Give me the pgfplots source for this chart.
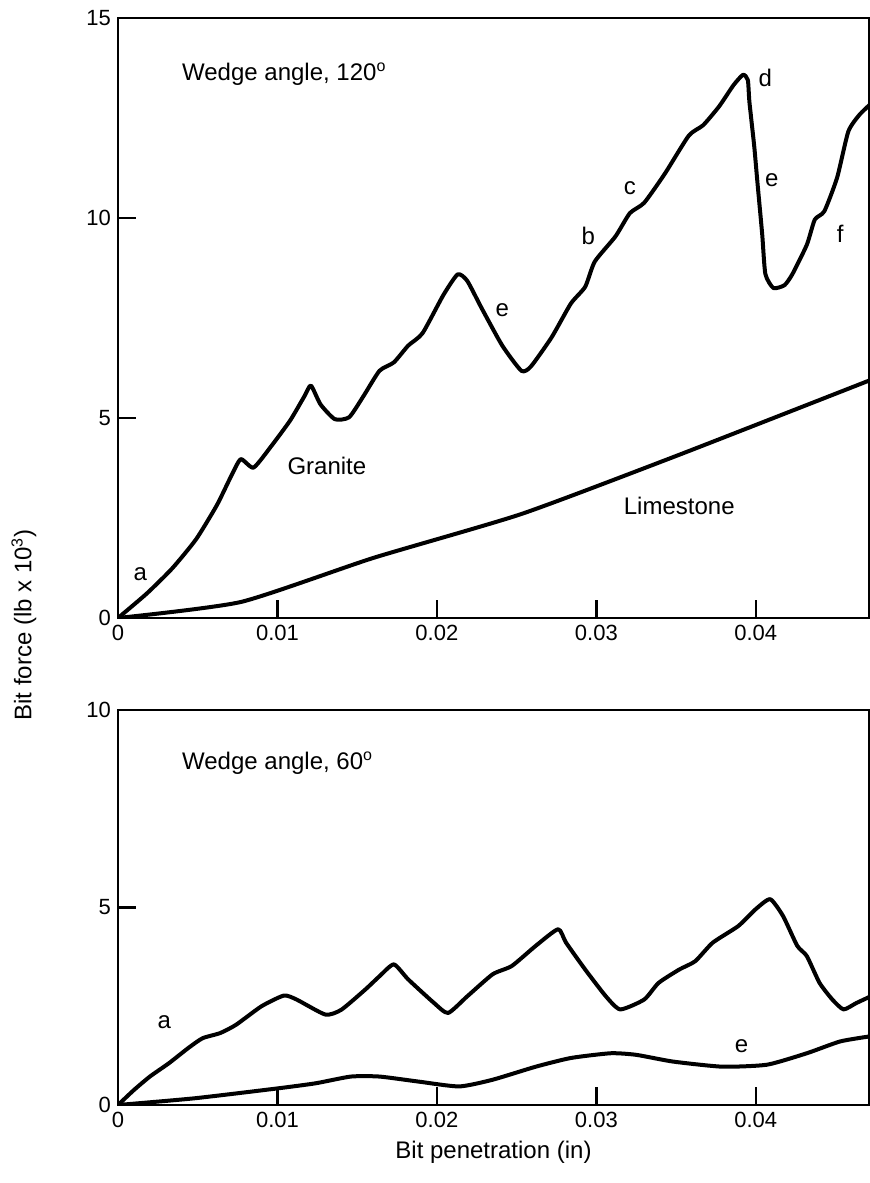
\documentclass[border=0pt]{standalone}
\usepackage{fontspec}
\setmainfont{Liberation Sans}
\usepackage{pgfplots}
\pgfplotsset{compat=1.18}

% upper panel, wedge angle 120
\pgfplotstableread{
x y
0.0000 0.00
0.0018 0.61
0.0034 1.24
0.0049 1.97
0.0062 2.82
0.0071 3.55
0.0077 3.97
0.0085 3.76
0.0096 4.29
0.0108 4.94
0.0117 5.55
0.0121 5.81
0.0127 5.34
0.0136 4.97
0.0145 5.02
0.0154 5.55
0.0164 6.18
0.0173 6.39
0.0182 6.81
0.0191 7.12
0.0204 8.07
0.0213 8.59
0.0219 8.43
0.0228 7.75
0.0241 6.81
0.0253 6.18
0.0259 6.29
0.0272 7.02
0.0284 7.86
0.0293 8.28
0.0299 8.91
0.0312 9.54
0.0321 10.12
0.0330 10.38
0.0343 11.11
0.0358 12.06
0.0367 12.32
0.0377 12.79
0.0386 13.32
0.0392 13.58
0.0395 13.45
0.0396 12.90
0.0399 11.80
0.0401 10.90
0.0404 9.60
0.0406 8.60
0.0411 8.25
0.0418 8.32
0.0423 8.60
0.0432 9.33
0.0437 9.96
0.0443 10.17
0.0451 11.01
0.0458 12.16
0.0465 12.58
0.0472 12.85
}\granitetop

\pgfplotstableread{
x y
0.0000 0.00
0.0077 0.40
0.0160 1.50
0.0253 2.60
0.0350 4.05
0.0472 5.95
}\limetop

% lower panel, wedge angle 60
\pgfplotstableread{
x y
0.0000 0.00
0.0010 0.38
0.0020 0.72
0.0032 1.06
0.0044 1.44
0.0053 1.69
0.0064 1.82
0.0074 2.03
0.0090 2.50
0.0104 2.77
0.0112 2.67
0.0130 2.29
0.0140 2.41
0.0155 2.92
0.0164 3.26
0.0173 3.56
0.0182 3.18
0.0198 2.59
0.0207 2.33
0.0219 2.75
0.0235 3.31
0.0247 3.52
0.0262 4.03
0.0276 4.45
0.0281 4.11
0.0293 3.43
0.0306 2.75
0.0315 2.42
0.0330 2.67
0.0339 3.09
0.0352 3.43
0.0362 3.64
0.0373 4.11
0.0389 4.53
0.0400 4.96
0.0409 5.21
0.0417 4.79
0.0426 4.03
0.0432 3.77
0.0440 3.09
0.0448 2.67
0.0455 2.42
0.0463 2.58
0.0472 2.75
}\granitebot

\pgfplotstableread{
x y
0.0000 0.00
0.0048 0.17
0.0100 0.42
0.0124 0.55
0.0146 0.72
0.0164 0.72
0.0189 0.59
0.0214 0.47
0.0235 0.64
0.0262 0.97
0.0284 1.19
0.0309 1.31
0.0325 1.27
0.0348 1.10
0.0379 0.97
0.0407 1.02
0.0432 1.31
0.0453 1.61
0.0472 1.74
}\limebot

\pgfplotsset{
  panel/.style={
    scale only axis,
    width=375.5pt,
    xmin=0, xmax=0.0471,
    axis line style={line width=1.2pt},
    tick align=inside,
    xtick pos=bottom, ytick pos=left,
    major tick length=9pt,
    every tick/.style={black, line width=1.2pt},
    xtick={0,0.01,0.02,0.03,0.04},
    xticklabels={0,0.01,0.02,0.03,0.04},
    scaled x ticks=false,
    /pgf/number format/assume math mode=true,
    tick label style={font=\fontsize{11}{13}\selectfont},
    label style={font=\fontsize{12}{14}\selectfont},
    clip=true,
  },
  curve/.style={black, line width=2pt, line join=round, line cap=round,
    no markers, smooth, tension=0.35},
}

\begin{document}
\begin{tikzpicture}
\tikzset{lab/.style={font=\fontsize{12}{14}\selectfont, inner sep=0pt}}

\begin{axis}[panel, name=top, at={(59pt,282.5pt)}, anchor=south west,
  height=300pt, ymin=0, ymax=15, ytick={0,5,10,15}]
  \addplot[curve] table[x=x, y=y] {\granitetop};
  \addplot[curve] table[x=x, y=y] {\limetop};
  \node[lab, anchor=west] at (axis cs:0.0040,13.6) {Wedge angle, 120\textsuperscript{o}};
  \node[lab] at (axis cs:0.0014,1.1) {a};
  \node[lab] at (axis cs:0.0131,3.8) {Granite};
  \node[lab] at (axis cs:0.0352,2.8) {Limestone};
  \node[lab] at (axis cs:0.0241,7.7) {e};
  \node[lab] at (axis cs:0.0295,9.55) {b};
  \node[lab] at (axis cs:0.0321,10.75) {c};
  \node[lab] at (axis cs:0.0406,13.5) {d};
  \node[lab] at (axis cs:0.0410,10.95) {e};
  \node[lab] at (axis cs:0.0453,9.6) {f};
\end{axis}

\begin{axis}[panel, name=bot, at={(59pt,39pt)}, anchor=south west,
  height=197.5pt, ymin=0, ymax=10, ytick={0,5,10},
  xlabel={Bit penetration (in)}]
  \addplot[curve] table[x=x, y=y] {\granitebot};
  \addplot[curve] table[x=x, y=y] {\limebot};
  \node[lab, anchor=west] at (axis cs:0.0040,8.65) {Wedge angle, 60\textsuperscript{o}};
  \node[lab] at (axis cs:0.0029,2.1) {a};
  \node[lab] at (axis cs:0.0391,1.5) {e};
\end{axis}

\node[lab, rotate=90] at (12pt,279pt) {Bit force (lb x 10\textsuperscript{3})};

\pgfresetboundingbox
\path[use as bounding box] (0,0) rectangle (434.5pt,591.5pt);
\end{tikzpicture}
\end{document}
